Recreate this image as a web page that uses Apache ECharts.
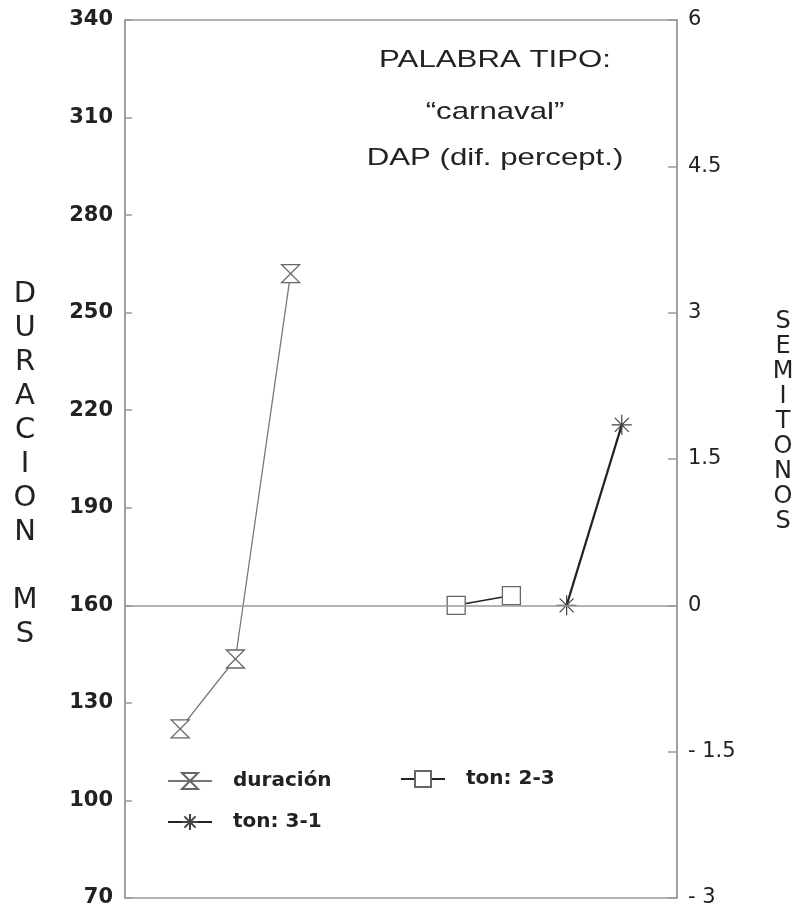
<!DOCTYPE html>
<html>
<head>
<meta charset="utf-8">
<script src="https://cdn.jsdelivr.net/npm/echarts@6/dist/echarts.min.js"></script>
<style>
html,body{margin:0;padding:0;background:#fff;}
#chart{width:799px;height:914px;}
</style>
</head>
<body>
<div id="chart"></div>
<script>
// ---- data ----
const slots = ['0','1','2','3','4','5','6','7','8','9','10'];
const durTicks = [70, 100, 130, 160, 190, 220, 250, 280, 310, 340];
const semTicks = [-3, -1.5, 0, 1.5, 3, 4.5, 6];
const duracion = [null, 122, 143.5, 262, null, null, null, null, null, null, null];
const ton23    = [null, null, null, null, null, null, 0, 0.1, null, null, null];
const ton31    = [null, null, null, null, null, null, null, null, 0, 1.85, null];
const seriesNames = ['duración', 'ton: 2-3', 'ton: 3-1'];
const titleLines = ['PALABRA TIPO:', '\u201Ccarnaval\u201D', 'DAP (dif. percept.)'];
const leftTitle = 'DURACION MS';
const rightTitle = 'SEMITONOS';

const chart = echarts.init(document.getElementById('chart'));
const ink = '#222';
const frame = '#9a9a9a';
const font = 'DejaVu Sans';

const hourglass = 'path://M0,0L20,0L0,20L20,20Z';
const asterisk = 'path://M10,0L10,20M0,10L20,10M3,3L17,17M17,3L3,17';

const legendBase = {
  orient: 'horizontal', padding: 0, itemWidth: 44, itemHeight: 20,
  textStyle: { fontFamily: font, fontWeight: 'bold', fontSize: 20, color: ink, padding: [0,0,0,16] }
};

const titleFont = '24px "Liberation Sans"';
function titleText(txt, y) {
  return { type: 'text', x: 495, y: y, scaleX: 1.3, scaleY: 1,
    style: { text: txt, font: titleFont, fill: ink, textAlign: 'center', textVerticalAlign: 'middle' } };
}

chart.setOption({
  animation: false,
  backgroundColor: '#fff',
  grid: { left: 125, right: 122, top: 20, bottom: 16, show: true, borderColor: frame, borderWidth: 1.5, containLabel: false },
  xAxis: {
    type: 'category', data: slots, boundaryGap: false,
    axisLine: { show: false }, axisTick: { show: false }, axisLabel: { show: false }, splitLine: { show: false }
  },
  yAxis: [
    {
      type: 'value', position: 'left',
      min: durTicks[0], max: durTicks[durTicks.length - 1], interval: durTicks[1] - durTicks[0],
      axisLine: { show: true, lineStyle: { color: frame, width: 1.5 } },
      axisTick: { show: true, inside: true, length: 7, lineStyle: { color: frame, width: 1.5 } },
      splitLine: { show: false },
      axisLabel: { margin: 12, fontFamily: font, fontWeight: 'bold', fontSize: 21, color: ink }
    },
    {
      type: 'value', position: 'right',
      min: semTicks[0], max: semTicks[semTicks.length - 1], interval: semTicks[1] - semTicks[0],
      axisLine: { show: true, lineStyle: { color: frame, width: 1.5 } },
      axisTick: { show: true, inside: true, length: 9, lineStyle: { color: frame, width: 1.5 } },
      splitLine: { show: false },
      axisLabel: { margin: 11, fontFamily: font, fontSize: 21, color: ink,
        formatter: v => (v < 0 ? '- ' + Math.abs(v) : String(v)) }
    }
  ],
  legend: [
    Object.assign({}, legendBase, { data: [seriesNames[0]], left: 167, top: 771 }),
    Object.assign({}, legendBase, { data: [seriesNames[1]], left: 400, top: 769 }),
    Object.assign({}, legendBase, { data: [seriesNames[2]], left: 167, top: 812 })
  ],
  graphic: [
    titleText(titleLines[0], 60),
    titleText(titleLines[1], 112),
    titleText(titleLines[2], 158),
    { type: 'text', x: 25, y: 464, style: { text: leftTitle.split('').join('\n'), font: '29px "DejaVu Sans"', lineHeight: 34, fill: ink, textAlign: 'center', textVerticalAlign: 'middle' } },
    { type: 'text', x: 783, y: 422, style: { text: rightTitle.split('').join('\n'), font: '24px "DejaVu Sans"', lineHeight: 25, fill: ink, textAlign: 'center', textVerticalAlign: 'middle' } }
  ],
  series: [
    {
      name: seriesNames[0], type: 'line', yAxisIndex: 0, data: duracion,
      symbol: hourglass, symbolSize: [18, 18],
      itemStyle: { color: '#fff', borderColor: '#666', borderWidth: 1.3 },
      lineStyle: { color: '#777', width: 1.3 }
    },
    {
      name: seriesNames[1], type: 'line', yAxisIndex: 1, data: ton23,
      symbol: 'rect', symbolSize: 18,
      itemStyle: { color: '#fff', borderColor: '#666', borderWidth: 1.3 },
      lineStyle: { color: ink, width: 1.6 },
      z: 3,
      markLine: {
        silent: true, symbol: ['none', 'none'], label: { show: false },
        lineStyle: { color: frame, width: 1.5, type: 'solid' },
        data: [{ yAxis: 0 }]
      }
    },
    {
      name: seriesNames[2], type: 'line', yAxisIndex: 1, data: ton31,
      symbol: asterisk, symbolSize: 20,
      itemStyle: { color: '#fff', borderColor: '#444', borderWidth: 1.2 },
      lineStyle: { color: ink, width: 2.2 }
    }
  ]
});
</script>
</body>
</html>
